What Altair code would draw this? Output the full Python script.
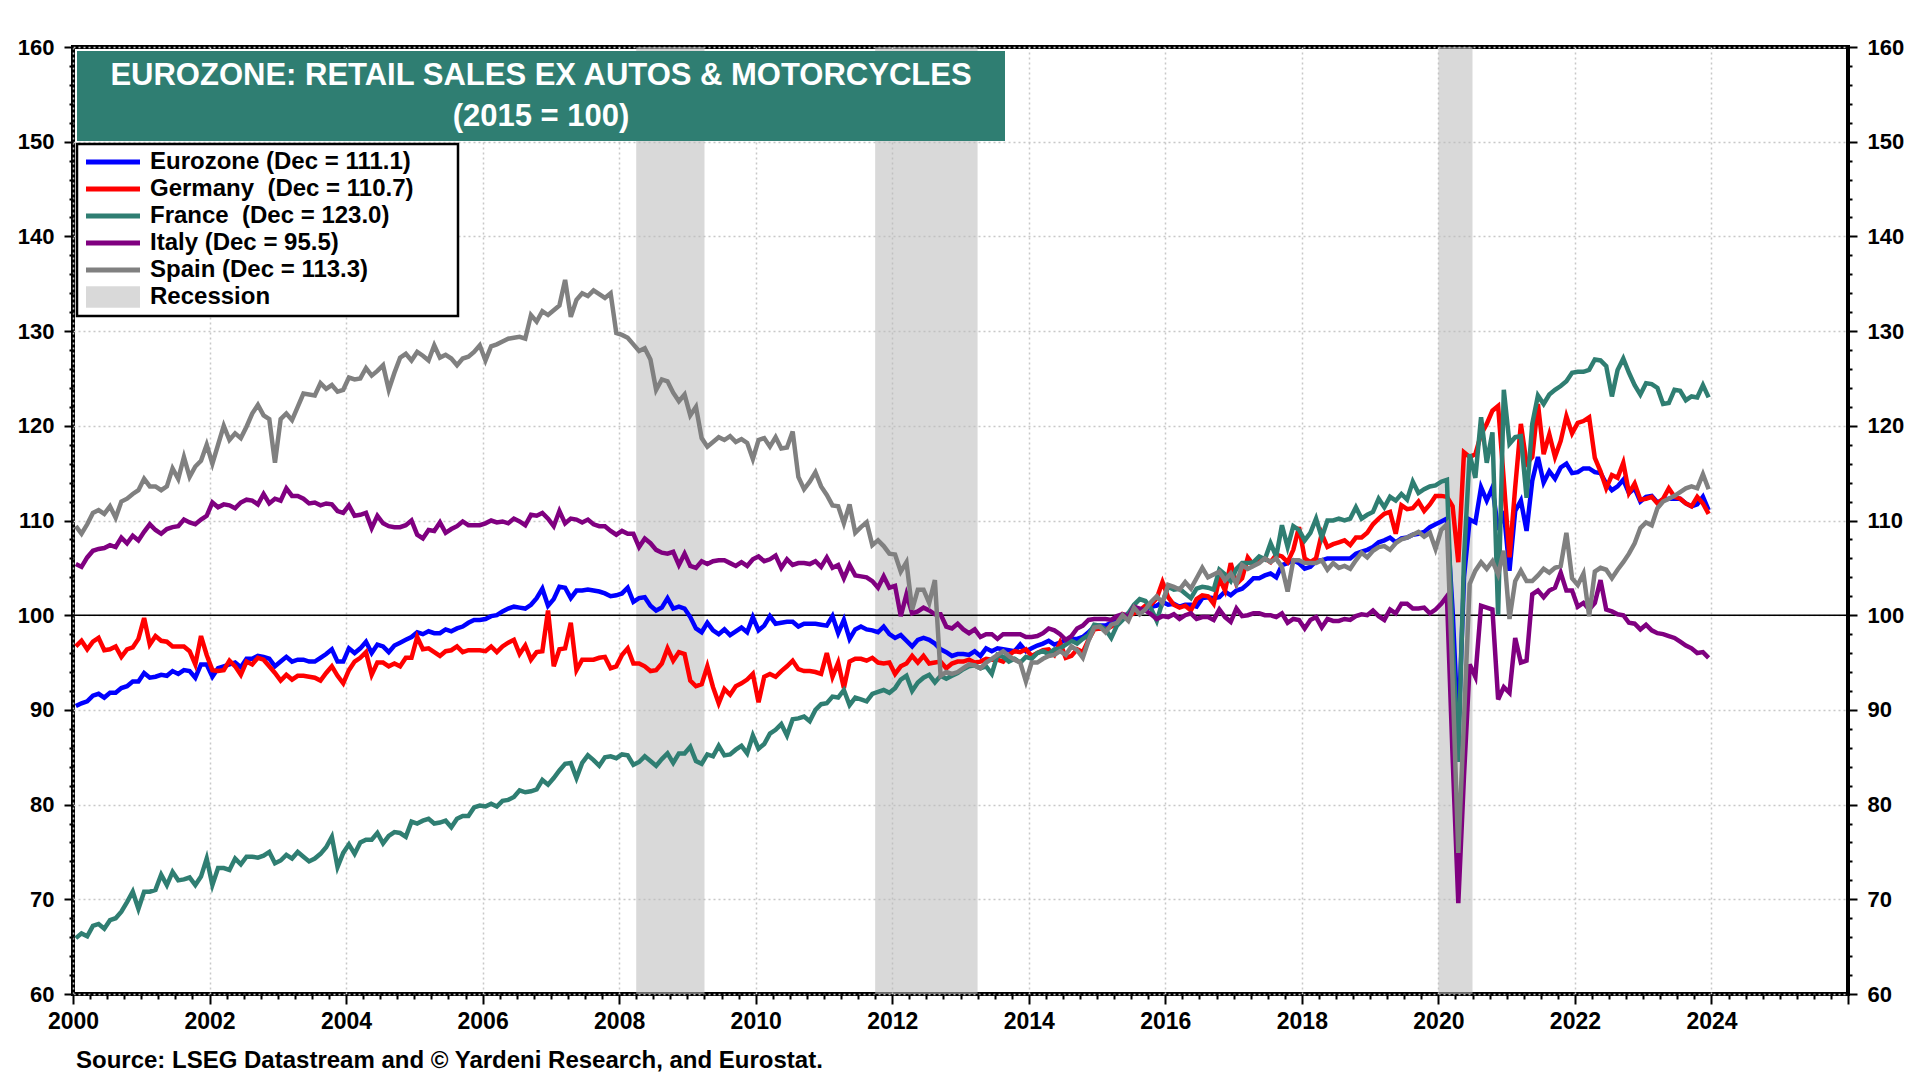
import altair as alt
import pandas as pd

# monthly index values, Jan 2000 - Dec 2023 (2015 = 100), one row per year
years = list(range(2000, 2024))

eurozone = [
    90.4, 90.7, 90.9, 91.5, 91.7, 91.3, 91.8, 91.8, 92.3, 92.5, 93.0, 93.0,
    93.9, 93.4, 93.5, 93.7, 93.6, 94.1, 93.8, 94.2, 94.1, 93.4, 94.8, 94.8,
    93.5, 94.4, 94.6, 94.8, 95.0, 94.5, 95.4, 95.4, 95.7, 95.6, 95.4, 94.6,
    95.1, 95.6, 95.1, 95.3, 95.3, 95.1, 95.1, 95.5, 95.9, 96.4, 95.1, 95.1,
    96.5, 96.0, 96.5, 97.2, 96.0, 96.9, 96.7, 96.1, 96.8, 97.1, 97.4, 97.7,
    98.2, 98.0, 98.3, 98.1, 98.1, 98.5, 98.3, 98.6, 98.8, 99.2, 99.5, 99.5,
    99.6, 99.9, 100.0, 100.4, 100.7, 100.9, 100.8, 100.7, 101.1, 101.8, 102.8, 101.0,
    101.7, 103.0, 102.9, 101.8, 102.6, 102.6, 102.7, 102.6, 102.5, 102.3, 102.0, 102.1,
    102.3, 102.9, 101.4, 101.8, 101.9, 101.0, 100.5, 100.8, 101.8, 100.7, 100.9, 100.7,
    99.8, 98.6, 98.2, 99.2, 98.4, 98.0, 98.5, 97.9, 98.3, 98.7, 98.2, 99.8,
    98.4, 98.9, 99.9, 99.1, 99.2, 99.3, 99.3, 98.8, 99.1, 99.1, 99.1, 99.0,
    98.9, 99.9, 98.1, 99.5, 97.5, 98.5, 98.8, 98.5, 98.4, 98.2, 98.8, 98.0,
    97.6, 97.9, 97.3, 96.7, 97.4, 97.6, 97.4, 97.0, 96.4, 96.1, 95.7, 95.9,
    95.9, 95.8, 96.2, 95.7, 96.5, 96.2, 96.5, 96.4, 96.3, 96.2, 96.9, 96.2,
    96.5, 96.8, 97.0, 97.3, 96.9, 97.1, 97.4, 97.5, 97.5, 97.7, 98.2, 98.8,
    98.9, 98.9, 99.2, 99.6, 99.8, 100.2, 100.6, 100.5, 100.7, 100.9, 101.0, 101.4,
    101.1, 101.2, 100.9, 101.1, 101.1, 100.9, 101.8, 101.9, 101.8, 101.9, 102.5, 102.1,
    102.6, 102.8, 103.3, 103.9, 103.9, 104.2, 104.4, 104.0, 105.3, 105.5, 105.8, 105.5,
    104.9, 105.1, 105.7, 105.8, 106.0, 106.0, 106.0, 106.0, 106.0, 106.5, 106.7, 106.9,
    107.2, 107.7, 107.9, 108.2, 107.7, 108.1, 108.2, 108.5, 108.6, 108.8, 109.3, 109.6,
    109.9, 110.2, 100.5, 87.5, 104.0, 110.1, 109.8, 113.5, 112.1, 113.5, 109.0, 111.0,
    104.7, 111.0, 112.1, 108.9, 114.2, 116.7, 114.0, 115.2, 114.4, 115.6, 116.0, 115.0,
    115.1, 115.5, 115.5, 115.1, 115.0, 113.9, 113.2, 113.6, 114.3, 112.9, 113.4, 112.0,
    112.5, 112.6, 111.9, 112.2, 112.3, 112.3, 112.3, 111.8, 111.5, 111.7, 112.5, 111.1,
]

germany = [
    96.7, 97.3, 96.4, 97.2, 97.6, 96.3, 96.4, 96.7, 95.6, 96.4, 96.6, 97.5,
    99.7, 96.9, 97.8, 97.3, 97.2, 96.7, 96.7, 96.7, 96.2, 94.8, 97.8, 95.8,
    94.2, 94.1, 94.2, 95.2, 94.6, 93.7, 95.1, 94.8, 95.5, 95.3, 94.6, 93.9,
    93.1, 93.7, 93.2, 93.6, 93.6, 93.5, 93.4, 93.1, 93.9, 94.6, 93.6, 92.8,
    94.2, 95.1, 95.5, 96.1, 93.7, 95.0, 95.0, 94.6, 94.9, 94.6, 95.5, 95.5,
    97.7, 96.4, 96.5, 96.1, 95.7, 96.2, 96.3, 96.7, 96.1, 96.3, 96.3, 96.3,
    96.2, 96.7, 96.1, 96.7, 97.1, 97.4, 95.9, 96.8, 95.3, 96.1, 96.2, 100.5,
    94.6, 96.4, 96.5, 99.2, 94.2, 95.3, 95.3, 95.3, 95.5, 95.6, 94.4, 94.6,
    95.8, 96.5, 94.9, 94.9, 94.6, 94.1, 94.2, 94.9, 96.5, 95.2, 96.1, 95.9,
    93.1, 92.5, 92.7, 94.6, 92.4, 90.7, 92.2, 91.6, 92.5, 92.8, 93.2, 93.8,
    90.8, 93.5, 93.8, 93.5, 94.1, 94.6, 95.2, 94.3, 94.1, 94.1, 94.0, 93.8,
    96.0, 93.5, 95.0, 92.3, 95.1, 95.4, 95.4, 95.2, 95.5, 95.0, 94.9, 95.0,
    93.8, 94.6, 94.9, 95.7, 95.0, 95.7, 94.9, 95.0, 95.1, 94.4, 94.9, 95.1,
    95.1, 95.3, 95.0, 95.1, 95.4, 95.3, 95.3, 95.1, 95.8, 96.2, 96.1, 96.4,
    95.7, 96.0, 96.3, 96.4, 95.8, 97.1, 95.5, 95.7, 96.4, 96.1, 97.4, 98.5,
    98.6, 98.5, 98.8, 99.2, 100.1, 99.9, 100.2, 100.5, 101.0, 101.1, 101.8, 103.5,
    101.9, 101.1, 100.8, 101.0, 100.5, 101.7, 102.1, 102.0, 101.2, 103.9, 102.6, 105.5,
    103.3, 103.9, 106.1, 105.3, 105.8, 106.0, 105.6, 106.4, 106.2, 105.6, 106.9, 109.3,
    106.0, 105.6, 106.0, 108.6, 107.2, 107.5, 107.7, 107.9, 107.4, 108.2, 108.2, 108.7,
    109.6, 110.2, 110.7, 110.9, 108.6, 111.6, 111.2, 111.3, 112.0, 111.0, 111.7, 112.6,
    112.6, 112.5, 111.5, 105.6, 117.2, 116.7, 117.0, 119.1, 120.2, 121.6, 122.1, 114.2,
    106.1, 113.5, 120.2, 116.0, 116.7, 122.3, 117.0, 119.1, 116.7, 118.4, 121.0, 119.2,
    120.3, 120.5, 120.9, 116.6, 115.2, 113.4, 114.8, 114.5, 116.1, 112.9, 113.9, 112.2,
    112.3, 112.5, 111.8, 112.3, 113.4, 112.5, 112.3, 111.8, 111.5, 112.5, 111.8, 110.7,
]

france = [
    65.9, 66.4, 66.1, 67.2, 67.4, 66.9, 67.8, 68.0, 68.7, 69.7, 70.8, 69.0,
    70.8, 70.8, 71.0, 72.6, 71.5, 72.9, 72.0, 72.1, 72.3, 71.5, 72.4, 74.3,
    71.5, 73.3, 73.3, 73.1, 74.3, 73.7, 74.5, 74.5, 74.4, 74.6, 75.0, 73.8,
    74.1, 74.7, 74.3, 75.0, 74.5, 74.0, 74.3, 74.8, 75.5, 76.6, 73.4, 74.9,
    75.8, 74.8, 76.0, 76.3, 76.3, 77.0, 75.9, 76.7, 77.1, 77.0, 76.6, 78.2,
    78.0, 78.3, 78.5, 78.0, 78.1, 78.3, 77.6, 78.5, 78.8, 78.8, 79.7, 79.9,
    79.8, 80.1, 79.8, 80.4, 80.5, 80.8, 81.5, 81.3, 81.4, 81.6, 82.6, 82.1,
    82.8, 83.6, 84.3, 84.4, 82.8, 84.4, 85.2, 84.7, 84.1, 85.0, 85.1, 84.9,
    85.3, 85.2, 84.2, 84.5, 85.1, 84.6, 84.1, 84.8, 85.4, 84.4, 85.4, 85.4,
    86.1, 84.6, 84.3, 85.3, 85.1, 86.2, 85.2, 85.3, 85.8, 86.2, 85.4, 87.3,
    85.9, 86.4, 87.5, 87.9, 88.5, 87.3, 89.0, 89.1, 89.3, 88.8, 90.0, 90.6,
    90.7, 91.4, 91.3, 92.1, 90.5, 91.3, 91.1, 90.9, 91.7, 91.9, 92.1, 91.8,
    92.3, 93.2, 93.6, 92.0, 92.9, 93.4, 93.7, 92.9, 93.6, 93.3, 93.6, 93.9,
    94.3, 94.6, 94.7, 94.4, 94.6, 93.8, 95.8, 95.6, 95.1, 95.4, 95.0, 95.6,
    95.4, 96.0, 96.2, 95.9, 96.4, 96.5, 96.9, 97.3, 97.0, 97.5, 97.9, 99.0,
    98.9, 98.5, 97.6, 98.9, 99.5, 100.2, 101.1, 101.7, 101.5, 100.7, 99.4, 101.4,
    103.0, 102.7, 102.8, 102.3, 101.8, 102.8, 103.0, 102.9, 102.7, 104.8, 104.3, 103.6,
    104.9, 105.5, 105.5, 105.6, 106.2, 105.9, 107.6, 106.2, 109.5, 107.2, 109.4, 109.0,
    107.9, 108.7, 110.2, 108.2, 110.0, 110.0, 110.2, 110.0, 110.2, 111.4, 110.2, 110.6,
    110.9, 112.3, 111.4, 112.5, 112.1, 112.8, 112.2, 114.1, 112.9, 113.3, 113.6, 113.7,
    114.1, 114.3, 97.0, 84.5, 106.0, 117.0, 114.5, 120.9, 116.1, 119.3, 100.0, 123.8,
    118.1, 118.8, 118.9, 112.4, 120.2, 123.2, 122.3, 123.3, 123.8, 124.2, 124.7, 125.6,
    125.7, 125.7, 125.9, 127.0, 126.9, 126.3, 123.1, 125.9, 127.1, 125.6, 124.3, 123.3,
    124.5, 124.4, 124.0, 122.3, 122.4, 123.8, 123.7, 122.7, 123.1, 123.0, 124.3, 123.0,
]

italy = [
    105.4, 105.1, 106.1, 106.8, 107.0, 107.1, 107.4, 107.2, 108.2, 107.6, 108.4, 107.9,
    108.8, 109.6, 109.0, 108.6, 109.1, 109.3, 109.4, 110.1, 109.8, 109.6, 110.1, 110.5,
    111.9, 111.4, 111.7, 111.6, 111.3, 111.9, 112.2, 112.1, 111.7, 112.8, 111.8, 112.3,
    112.1, 113.4, 112.6, 112.6, 112.3, 111.8, 111.9, 111.6, 111.8, 111.7, 111.0, 110.8,
    111.6, 110.5, 110.6, 110.8, 109.2, 110.5, 109.7, 109.4, 109.3, 109.3, 109.5, 110.0,
    108.5, 108.1, 109.0, 108.9, 109.8, 108.7, 109.1, 109.4, 109.9, 109.5, 109.5, 109.5,
    109.7, 110.0, 109.8, 109.9, 109.7, 110.2, 109.9, 109.5, 110.6, 110.5, 110.8, 110.2,
    109.4, 111.0, 109.7, 110.2, 110.1, 109.8, 110.1, 109.6, 109.4, 109.4, 108.9, 108.5,
    108.9, 108.6, 108.6, 107.2, 108.1, 107.6, 106.9, 106.6, 106.5, 106.7, 105.3, 106.5,
    105.2, 105.0, 105.7, 105.4, 105.7, 105.8, 105.8, 105.5, 105.2, 105.6, 105.2, 105.9,
    106.2, 105.7, 105.9, 106.3, 105.0, 105.9, 105.3, 105.5, 105.5, 105.4, 105.7, 105.1,
    106.1, 105.0, 105.3, 103.9, 105.3, 104.2, 104.1, 104.0, 103.6, 102.9, 104.1, 102.9,
    103.1, 99.9, 102.2, 100.2, 100.4, 100.8, 100.5, 100.1, 100.1, 98.8, 98.6, 99.1,
    98.5, 98.1, 98.5, 97.7, 98.0, 98.0, 97.5, 98.0, 98.0, 98.0, 98.0, 97.7,
    97.7, 97.8, 98.1, 98.6, 98.4, 98.0, 97.4, 97.8, 98.6, 98.9, 99.5, 99.6,
    99.6, 99.6, 99.5, 99.9, 100.1, 99.8, 100.9, 100.7, 100.5, 100.1, 99.6, 99.9,
    99.8, 100.1, 99.6, 100.0, 100.2, 99.6, 99.8, 99.8, 99.5, 100.6, 99.8, 99.3,
    100.7, 99.9, 100.0, 100.2, 100.2, 100.0, 100.0, 99.8, 100.2, 99.2, 99.6, 99.5,
    98.6, 99.5, 99.8, 98.7, 99.6, 99.4, 99.4, 99.6, 99.5, 99.9, 100.1, 100.0,
    100.5, 99.9, 99.5, 100.6, 100.2, 101.2, 101.2, 100.7, 100.7, 100.8, 100.2, 100.6,
    101.2, 102.0, 85.0, 69.6, 83.0, 94.8, 93.5, 101.0, 100.8, 100.6, 91.1, 92.4,
    91.8, 97.6, 95.0, 95.2, 102.2, 102.6, 101.9, 102.6, 102.9, 104.5, 102.6, 102.6,
    100.9, 101.3, 100.6, 101.3, 103.7, 100.6, 100.4, 100.1, 100.0, 99.2, 99.1, 98.5,
    99.0, 98.4, 98.1, 98.0, 97.8, 97.6, 97.2, 96.8, 96.5, 96.0, 96.1, 95.5,
]

spain = [
    109.4, 108.6, 109.6, 110.8, 111.1, 110.7, 111.5, 110.3, 112.0, 112.3, 112.8, 113.2,
    114.4, 113.6, 113.6, 113.2, 113.6, 115.5, 114.4, 116.7, 114.6, 115.7, 116.3, 118.0,
    116.0, 118.0, 120.0, 118.5, 119.2, 118.7, 119.9, 121.3, 122.2, 121.1, 120.7, 116.1,
    120.7, 121.3, 120.6, 122.0, 123.4, 123.3, 123.2, 124.5, 123.9, 124.3, 123.6, 123.8,
    125.1, 124.9, 125.0, 126.1, 125.3, 125.8, 126.4, 123.8, 125.6, 127.2, 127.6, 126.9,
    127.8, 127.4, 126.9, 128.5, 127.2, 127.5, 127.1, 126.4, 127.1, 127.3, 127.8, 128.5,
    126.9, 128.4, 128.6, 128.9, 129.2, 129.3, 129.4, 129.2, 131.7, 131.0, 132.1, 131.7,
    132.2, 132.7, 135.4, 131.5, 133.3, 134.0, 133.7, 134.3, 133.9, 133.5, 134.0, 129.8,
    129.6, 129.3, 128.6, 127.9, 128.2, 127.0, 123.8, 124.9, 124.7, 123.5, 122.6, 123.3,
    121.1, 122.0, 118.7, 117.8, 118.3, 118.8, 118.5, 118.9, 118.3, 118.6, 118.2, 116.5,
    118.5, 118.7, 117.8, 118.8, 117.6, 117.7, 119.4, 114.6, 113.3, 114.1, 115.1, 113.6,
    112.7, 111.6, 111.5, 109.7, 111.7, 108.7, 109.3, 109.8, 107.4, 107.9, 107.3, 106.5,
    106.4, 104.6, 105.6, 100.6, 102.7, 102.7, 101.3, 103.7, 93.6, 94.0, 93.8, 94.0,
    94.4, 94.8, 94.7, 94.4, 95.0, 95.4, 95.8, 96.2, 95.7, 95.3, 95.0, 93.0,
    95.0, 95.0, 95.4, 95.7, 95.8, 96.2, 95.8, 96.7, 96.3, 95.5, 97.3, 98.7,
    98.8, 98.2, 99.0, 99.2, 100.0, 99.4, 100.8, 100.1, 100.6, 101.4, 102.0, 101.3,
    103.2, 103.0, 102.7, 103.5, 102.8, 103.9, 105.0, 104.0, 104.3, 104.6, 103.7, 104.4,
    103.3, 105.3, 104.9, 105.2, 105.5, 106.0, 105.6, 106.0, 105.1, 102.5, 105.8, 105.8,
    105.5, 105.5, 105.5, 105.8, 104.8, 105.5, 105.0, 105.2, 104.9, 105.8, 106.6, 106.1,
    106.8, 107.2, 107.3, 106.9, 107.6, 108.0, 108.2, 108.5, 108.8, 108.3, 108.7, 107.0,
    109.0, 109.6, 93.0, 74.9, 89.0, 103.3, 104.7, 105.6, 104.9, 105.7, 104.3, 106.8,
    99.6, 103.6, 104.7, 103.6, 103.6, 104.2, 104.9, 104.5, 105.0, 105.2, 108.7, 103.9,
    103.2, 104.4, 99.9, 104.6, 105.0, 104.8, 103.9, 104.8, 105.6, 106.5, 107.6, 109.2,
    109.8, 109.5, 111.3, 112.0, 112.3, 112.6, 113.0, 113.4, 113.6, 113.4, 114.9, 113.3,
]

series_names = [
    "Eurozone (Dec = 111.1)",
    "Germany\u00a0 (Dec = 110.7)",
    "France\u00a0 (Dec = 123.0)",
    "Italy (Dec = 95.5)",
    "Spain (Dec = 113.3)",
]
series_colors = ["#0000FF", "#FF0000", "#2F7E72", "#800080", "#808080"]

# recessions (fractional years)
rec_start = [2008.25, 2011.75, 2020.0]
rec_end = [2009.25, 2013.25, 2020.5]

title_lines = ["EUROZONE: RETAIL SALES EX AUTOS & MOTORCYCLES", "(2015 = 100)"]
source_text = "Source: LSEG Datastream and \u00a9 Yardeni Research, and Eurostat."

FONT = "Liberation Sans"
TEAL = "#2F7E72"

rows = []
for name, vals in zip(series_names, [eurozone, germany, france, italy, spain]):
    assert len(vals) == 12 * len(years), name
    for k, v in enumerate(vals):
        rows.append({"t": years[k // 12] + (k % 12 + 0.5) / 12, "v": v, "s": name})
df = pd.DataFrame(rows)

rec_df = pd.DataFrame({"start": rec_start, "end": rec_end, "kind": ["Recession"] * 3})
one = pd.DataFrame({"k": [0]})

xscale = alt.Scale(domain=[2000, 2026], nice=False, zero=False)
yscale = alt.Scale(domain=[60, 160], nice=False, zero=False)

x_ticks = [2000 + 0.25 * q for q in range(105)]
y_ticks = list(range(60, 161, 2))

x_axis = alt.Axis(
    values=x_ticks, title=None, domain=False,
    labelExpr="datum.value % 2 === 0 && datum.value < 2025 ? format(datum.value, 'd') : ''",
    labelFlush=False, labelOverlap=False, labelPadding=6,
    labelFont=FONT, labelFontWeight="bold", labelFontSize=23, labelColor="black",
    tickColor="black", tickWidth=2,
    tickSize={"condition": {"test": "datum.value % 2 === 0", "value": 10}, "value": 5},
    grid=True, gridColor="#c8c8c8", gridDash=[2, 3], gridWidth=1.5,
    gridOpacity={"condition": {"test": "datum.value % 2 === 0 && datum.value < 2025", "value": 1}, "value": 0},
)


def y_axis(orient, grid):
    return alt.Axis(
        orient=orient, values=y_ticks, title=None, domain=False,
        labelExpr="datum.value % 10 === 0 ? datum.label : ''",
        labelOverlap=False, labelPadding=10,
        labelFont=FONT, labelFontWeight="bold", labelFontSize=22, labelColor="black",
        tickColor="black", tickWidth=2,
        tickSize={"condition": {"test": "datum.value % 10 === 0", "value": 9}, "value": 4},
        grid=grid, gridColor="#c8c8c8", gridDash=[2, 3], gridWidth=1.5,
        gridOpacity={"condition": {"test": "datum.value % 10 === 0", "value": 1}, "value": 0},
    )


# legend entries: small symbol size keeps rows tight, custom paths stretch the swatch
legend_common = dict(
    orient="none", legendX=28, title=None, padding=0,
    labelFont=FONT, labelFontWeight="bold", labelFontSize=24, labelColor="black",
    labelOffset=25, labelLimit=0, symbolSize=182.25, rowPadding=3,
)

recession = alt.Chart(rec_df).mark_rect(opacity=0.57).encode(
    x=alt.X("start:Q", scale=xscale, axis=x_axis),
    x2="end:Q",
    fill=alt.Fill(
        "kind:N",
        scale=alt.Scale(domain=["Recession"], range=["#bdbdbd"]),
        legend=alt.Legend(legendY=238, symbolType="M-4,-1.6H4V1.6H-4Z",
                          symbolOpacity=0.57, symbolStrokeWidth=0, **legend_common),
    ),
)

base_rule = alt.Chart(pd.DataFrame({"v": [100]})).mark_rule(
    color="black", strokeWidth=1.5
).encode(y=alt.Y("v:Q", scale=yscale, axis=y_axis("right", False)))

lines = alt.Chart(df).mark_line(strokeWidth=4.5).encode(
    x=alt.X("t:Q", scale=xscale, axis=x_axis),
    y=alt.Y("v:Q", scale=yscale, axis=y_axis("left", True)),
    color=alt.Color(
        "s:N", sort=series_names,
        scale=alt.Scale(domain=series_names, range=series_colors),
        legend=alt.Legend(legendY=103, symbolType="M-4,0H4", symbolStrokeWidth=5,
                          **legend_common),
    ),
)

title_box = alt.Chart(one).mark_rect(color=TEAL).encode(
    x=alt.value(4), x2=alt.value(932), y=alt.value(4), y2=alt.value(94)
)
title_1 = alt.Chart(one).mark_text(
    font=FONT, fontWeight="bold", fontSize=31, color="white", align="center", baseline="alphabetic"
).encode(x=alt.value(468), y=alt.value(38), text=alt.value(title_lines[0]))
title_2 = alt.Chart(one).mark_text(
    font=FONT, fontWeight="bold", fontSize=31, color="white", align="center", baseline="alphabetic"
).encode(x=alt.value(468), y=alt.value(79), text=alt.value(title_lines[1]))

legend_box = alt.Chart(one).mark_rect(fill="white", stroke="black", strokeWidth=2.5).encode(
    x=alt.value(4), x2=alt.value(385), y=alt.value(97), y2=alt.value(269)
)

source = alt.Chart(one).mark_text(
    font=FONT, fontWeight="bold", fontSize=24, color="black", align="left", baseline="alphabetic"
).encode(x=alt.value(3), y=alt.value(1021), text=alt.value(source_text))

chart = (
    alt.layer(recession, base_rule, lines, title_box, title_1, title_2, legend_box, source)
    .resolve_axis(y="independent")
    .properties(
        width=1775, height=947,
        autosize=alt.AutoSizeParams(type="none"),
        padding={"left": 65, "top": 39, "right": 64, "bottom": 86},
        background="white",
    )
    .configure_view(stroke="black", strokeWidth=4)
)

chart.save("out.html", embed_options={"renderer": "svg", "actions": False})
